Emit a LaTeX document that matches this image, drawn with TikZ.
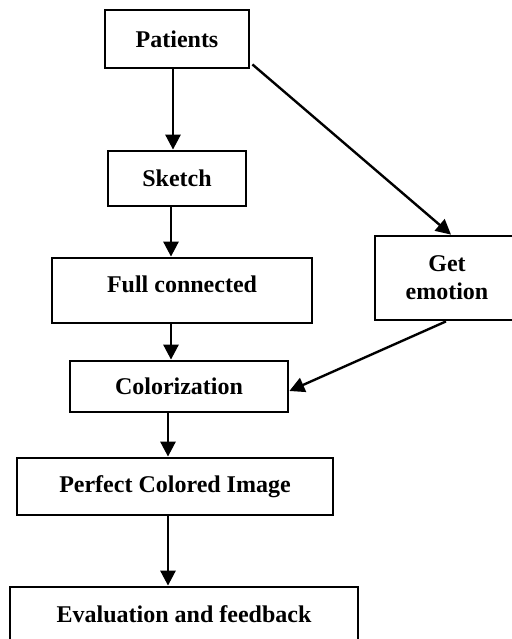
\documentclass[tikz,border=0pt]{standalone}
\usepackage{fontspec}
\setmainfont{Liberation Serif}
\usetikzlibrary{arrows.meta}

\begin{document}
\begin{tikzpicture}[x=1pt, y=-1pt,
    every node/.style={font=\fontsize{12}{14}\selectfont\bfseries},
    box/.style={draw, rectangle, line width=1.4pt, inner sep=0pt, align=center},
    flow/.style={-{Triangle[length=7.5pt, width=7.5pt]}, line width=1.4pt}]
    \useasboundingbox (0,0) rectangle (256,319.5);
    % main column
    \node[box, minimum width=72pt, minimum height=29pt] (patients) at (88.5,19.5) {Patients};
    \node[box, minimum width=69pt, minimum height=27.5pt] (sketch) at (88.5,89.25) {Sketch};
    \node[box, minimum width=130pt, minimum height=32.5pt, text depth=6.5pt] (full) at (91,145.25) {Full connected};
    \node[box, minimum width=109pt, minimum height=25.5pt] (color) at (89.5,193.25) {Colorization};
    \node[box, minimum width=158pt, minimum height=28.5pt] (perfect) at (87.5,243.25) {Perfect Colored Image};
    \node[box, minimum width=174pt, minimum height=27.5pt] (eval) at (92,307.25) {Evaluation and feedback};
    % side branch
    \node[box, minimum width=72pt, minimum height=42pt] (emotion) at (223.5,139) {Get\\emotion};

    \draw[flow] ([xshift=-2pt]patients.south) -- ([xshift=-2pt]patients.south |- sketch.north);
    \draw[flow] ([xshift=-3pt]sketch.south) -- ([xshift=-3pt]sketch.south |- full.north);
    \draw[flow] ([xshift=-5.5pt]full.south) -- ([xshift=-5.5pt]full.south |- color.north);
    \draw[flow] ([xshift=-5.5pt]color.south) -- ([xshift=-5.5pt]color.south |- perfect.north);
    \draw[flow] ([xshift=-3.5pt]perfect.south) -- ([xshift=-3.5pt]perfect.south |- eval.north);
    \draw[flow, line width=1.2pt] ([shift={(1pt,2.5pt)}]patients.south east) -- ([xshift=2pt]emotion.north);
    \draw[flow, line width=1.2pt] ([xshift=-0.5pt]emotion.south) -- ([yshift=-2.25pt]color.east);
\end{tikzpicture}
\end{document}
